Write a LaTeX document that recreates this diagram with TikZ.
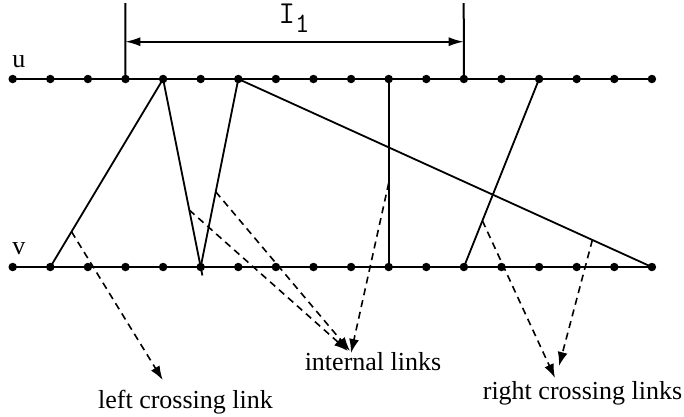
\documentclass[tikz,border=0pt]{standalone}
\usepackage{fontspec}
\setmainfont{Liberation Serif}
\usetikzlibrary{arrows.meta,calc}
\tikzset{
  dot/.style={circle,fill=black,inner sep=0pt,minimum size=8.5pt},
  axis/.style={line width=2pt},
  link/.style={line width=1.8pt},
  ptr/.style={line width=1.6pt,dash pattern=on 7pt off 5pt,-{Latex[length=14pt,width=10pt]}},
  dim/.style={line width=1.6pt,{Latex[length=15pt,width=9pt]}-{Latex[length=15pt,width=9pt]}},
  lbl/.style={font=\fontsize{26}{30}\selectfont,inner sep=0pt},
}
\begin{document}
\begin{tikzpicture}[x=1pt,y=-1pt]
\useasboundingbox (0,0) rectangle (684,416);
% rows
\draw[axis] (12.7,79) -- (651.9,79);
\draw[axis] (12.7,267) -- (651.9,267);
\foreach \i in {0,...,17} {
  \node[dot] (u\i) at ({12.7+37.6*\i},79) {};
  \node[dot] (v\i) at ({12.7+37.6*\i},267) {};
}
\node[lbl] (ul) at (19,62) {u};
\node[lbl] (vl) at (19,249) {v};
% interval I1
\coordinate (t3) at (125.3,3);
\coordinate (t12) at (463.7,3);
\draw[axis] (t3) -- (u3.center);
\draw[axis] (t12) -- (u12.center);
\coordinate (d3) at (125.3,41.7);
\coordinate (d12) at (463.7,41.7);
\draw[dim] (d3) -- (d12);
\node[inner sep=0pt,anchor=base] (I1) at (294,23) {\fontsize{32}{34}\ttfamily I\raisebox{-9.3pt}{\fontsize{28}{30}\selectfont 1}};
% links
\draw[link] (u4.center) -- (v1.center);
\draw[link] (u4.center) -- ($(u4.center)!1.045!(v5.center)$) coordinate (tail);
\draw[link] (u6.center) -- (v5.center);
\draw[link] (u6.center) -- (v17.center);
\draw[link] (u10.center) -- (v10.center);
\draw[link] (u14.center) -- (v12.center);
% points on links
\coordinate (pl) at ($(u4.center)!0.812!(v1.center)$);
\coordinate (pa) at ($(u4.center)!0.697!(v5.center)$);
\coordinate (pb) at ($(u6.center)!0.6!(v5.center)$);
\coordinate (pc) at ($(u10.center)!0.553!(v10.center)$);
\coordinate (pr1) at ($(u14.center)!0.754!(v12.center)$);
\coordinate (pr2) at ($(u6.center)!0.856!(v17.center)$);
% labels
\node[lbl,anchor=base] (left) at (185.5,408.5) {left crossing link};
\node[lbl,anchor=base] (internal) at (373,370.5) {internal links};
\node[lbl,anchor=base] (right) at (582.5,399.5) {right crossing links};
% tips
\coordinate (tl) at (162.7,380);
\coordinate (ti1) at (348,351);
\coordinate (ti2) at (350,351);
\coordinate (ti3) at (351,353);
\coordinate (tr1) at (555,378);
\coordinate (tr2) at (559,366);
% pointers
\draw[ptr] (pl) -- (tl);
\draw[ptr] (pa) -- (ti1);
\draw[ptr] (pb) -- (ti2);
\draw[ptr] (pc) -- (ti3);
\draw[ptr] (pr1) -- (tr1);
\draw[ptr] (pr2) -- (tr2);
\end{tikzpicture}
\end{document}
